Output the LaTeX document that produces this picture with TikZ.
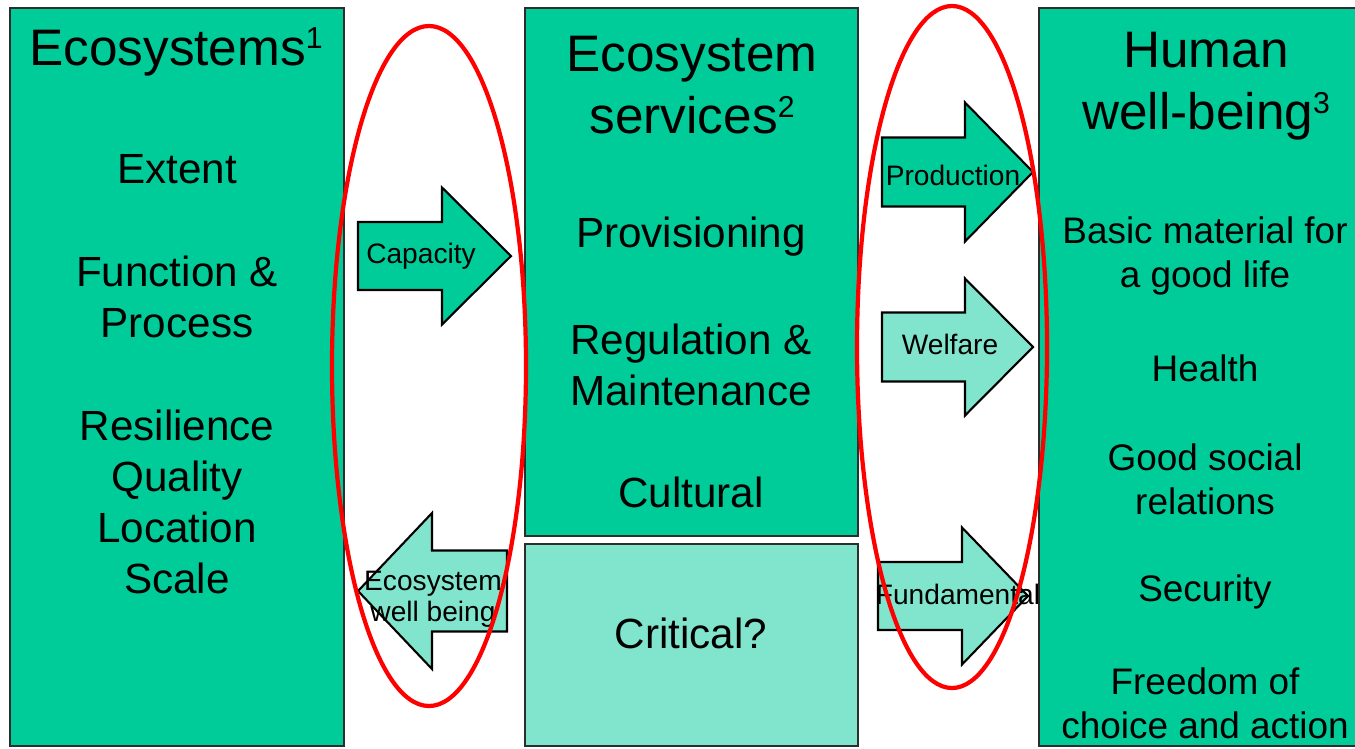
\documentclass[tikz,border=0pt]{standalone}
\usepackage{fontspec}
\setmainfont{Liberation Sans}
\usetikzlibrary{positioning}
\definecolor{ecogreen}{RGB}{0,204,153}
\definecolor{ecolight}{RGB}{128,229,204}
\definecolor{edgegrey}{RGB}{45,45,45}
\newcommand{\supnum}[1]{\raisebox{4.6pt}{\fontsize{8.6}{9}\selectfont #1}}
\tikzset{
  box/.style={draw=edgegrey, line width=0.6pt},
  blockarrow/.style={draw=black, line width=0.6pt, line join=miter},
  ring/.style={draw=red, line width=1.2pt},
  headtext/.style={align=center, inner sep=0pt, font=\fontsize{14.6}{17.8}\selectfont},
  itemtext/.style={align=center, inner sep=0pt, font=\fontsize{12}{14.5}\selectfont},
  smalltext/.style={align=center, inner sep=0pt, font=\fontsize{10.5}{12.6}\selectfont},
  arrowtext/.style={align=center, inner sep=0pt, font=\fontsize{8}{8.9}\selectfont}
}
% block arrow: fill, tail x, head base x, tip x, centre y, half shaft, half head
\newcommand{\blockarrow}[7]{%
  \draw[blockarrow, fill=#1] (#2,#5-#6) -- (#3,#5-#6) -- (#3,#5-#7) -- (#4,#5)
    -- (#3,#5+#7) -- (#3,#5+#6) -- (#2,#5+#6) -- cycle;
}
\begin{document}
\begin{tikzpicture}[x=0.01cm, y=-0.01cm]
  \useasboundingbox (0,0) rectangle (1355,748);

  % the three columns
  \path[box, fill=ecogreen] (10,8) rectangle (344,746);
  \path[box, fill=ecogreen] (525,8) rectangle (858,536);
  \path[box, fill=ecolight] (525,544) rectangle (858,746);
  \path[box, fill=ecogreen] (1039,8) rectangle (1370,746);

  % arrows between the columns
  \blockarrow{ecogreen}{358}{442}{511}{256}{34}{68.5}
  \blockarrow{ecolight}{507}{432}{358}{591}{40.5}{78}
  \blockarrow{ecogreen}{882}{965}{1033}{172}{34.5}{69.5}
  \blockarrow{ecolight}{882}{965}{1033}{347}{34.5}{68.5}
  \blockarrow{ecolight}{878}{962}{1028}{596}{34}{68.5}

  \node[arrowtext] (capacity) at (421,256) {Capacity};
  \node[arrowtext] (ecowell) at (433,599) {Ecosystem\\well being};
  \node[arrowtext] (production) at (953,175) {Production};
  \node[arrowtext] (welfare) at (950,344) {Welfare};
  \node[arrowtext] (fundamental) at (958,594) {Fundamental};

  % ecosystems
  \node[headtext] (eco) at (176,52) {Ecosystems\supnum{1}};
  \node[itemtext] (extent) at (177,169) {Extent};
  \node[itemtext] (function) at (177,297) {Function \&\\Process};
  \node[itemtext] (resilience) at (177,502) {Resilience\\Quality\\Location\\Scale};

  % services
  \node[headtext] (services) at (692,85) {Ecosystem\\services\supnum{2}};
  \node[itemtext] (provisioning) at (691,237) {Provisioning};
  \node[itemtext] (regulation) at (691,365) {Regulation \&\\Maintenance};
  \node[itemtext] (cultural) at (691,492) {Cultural};
  \node[itemtext] (critical) at (691,633) {Critical?};

  % well-being
  \node[headtext] (human) at (1206,86) {Human\\well-being\supnum{3}};
  \node[smalltext] (basic) at (1205,256) {Basic material for\\a good life};
  \node[smalltext] (health) at (1205,368) {Health};
  \node[smalltext] (social) at (1205,479) {Good social\\relations};
  \node[smalltext] (security) at (1205,592) {Security};
  \node[smalltext] (freedom) at (1205,703) {Freedom of\\choice and action};

  % highlights
  \draw[ring] (429,366) ellipse [x radius=97, y radius=340];
  \draw[ring] (952,347) ellipse [x radius=95, y radius=341];
\end{tikzpicture}
\end{document}
